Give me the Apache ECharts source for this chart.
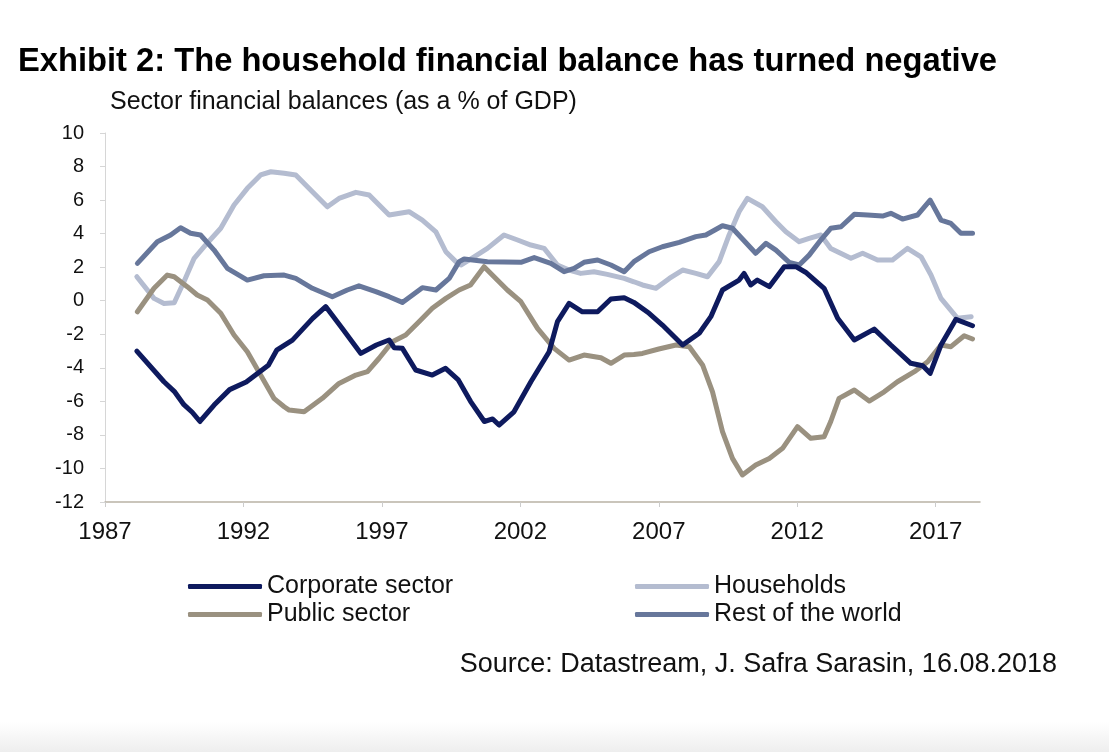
<!DOCTYPE html>
<html>
<head>
<meta charset="utf-8">
<script src="https://cdn.jsdelivr.net/npm/echarts@6/dist/echarts.min.js"></script>
<style>
html,body{margin:0;padding:0;background:#fff;}
#chart{width:1109px;height:752px;}
</style>
</head>
<body>
<div id="chart"></div>
<script>
// ---- Data ----
var xTickYears = [1987, 1992, 1997, 2002, 2007, 2012, 2017];
var yTicks = [-12, -10, -8, -6, -4, -2, 0, 2, 4, 6, 8, 10];

var corporateYears = [1988.15,1989.13,1989.5,1989.85,1990.15,1990.43,1990.94,1991.5,1992.1,1992.9,1993.2,1993.77,1994.5,1994.97,1995.57,1996.24,1996.8,1997.26,1997.44,1997.74,1998.22,1998.82,1999.3,1999.75,2000.2,2000.7,2001.0,2001.23,2001.77,2002.38,2003.04,2003.34,2003.76,2004.24,2004.79,2005.27,2005.75,2006.1,2006.65,2007.13,2007.86,2008.46,2008.88,2009.3,2009.9,2010.08,2010.32,2010.56,2010.99,2011.53,2011.95,2012.3,2012.97,2013.46,2014.06,2014.78,2015.38,2016.1,2016.53,2016.8,2017.19,2017.73,2018.33];
var corporateValues = [-3.0,-4.83,-5.4,-6.2,-6.65,-7.2,-6.22,-5.3,-4.85,-3.85,-2.95,-2.35,-1.05,-0.35,-1.65,-3.14,-2.64,-2.34,-2.8,-2.84,-4.13,-4.43,-4.03,-4.7,-6.0,-7.2,-7.05,-7.41,-6.62,-4.83,-3.04,-1.25,-0.16,-0.66,-0.66,0.1,0.18,-0.1,-0.75,-1.45,-2.64,-1.94,-0.95,0.64,1.23,1.63,0.94,1.23,0.84,2.03,2.03,1.7,0.74,-1.05,-2.34,-1.69,-2.64,-3.73,-3.88,-4.33,-2.64,-1.11,-1.49];

var householdsYears = [1988.15,1988.77,1989.13,1989.5,1989.85,1990.22,1990.58,1991.18,1991.66,1992.14,1992.62,1992.99,1993.47,1993.89,1994.49,1995.03,1995.45,1996.06,1996.54,1997.26,1997.98,1998.46,1998.95,1999.31,1999.67,1999.85,2000.33,2000.81,2001.41,2001.9,2002.38,2002.86,2003.34,2003.76,2004.18,2004.66,2005.14,2005.75,2006.1,2006.41,2006.9,2007.38,2007.86,2008.34,2008.76,2009.18,2009.54,2009.9,2010.2,2010.74,2011.23,2011.59,2012.07,2012.43,2012.85,2013.21,2013.94,2014.36,2014.9,2015.44,2015.98,2016.47,2016.83,2017.19,2017.79,2018.28];
var householdsValues = [1.43,0.14,-0.16,-0.12,1.13,2.53,3.22,4.32,5.71,6.7,7.5,7.69,7.6,7.5,6.5,5.6,6.1,6.46,6.3,5.11,5.31,4.81,4.11,2.92,2.33,2.13,2.62,3.12,3.92,3.62,3.32,3.12,2.13,1.83,1.63,1.73,1.57,1.33,1.13,0.94,0.74,1.33,1.83,1.63,1.43,2.33,3.92,5.31,6.1,5.6,4.71,4.11,3.52,3.72,3.92,3.12,2.53,2.83,2.43,2.43,3.12,2.62,1.53,0.14,-1.05,-0.95];

var publicYears = [1988.17,1988.77,1989.25,1989.5,1989.97,1990.33,1990.7,1991.18,1991.66,1992.14,1992.62,1993.1,1993.47,1993.65,1994.19,1994.85,1995.45,1996.06,1996.48,1996.9,1997.38,1997.86,1998.34,1998.82,1999.31,1999.79,2000.2,2000.69,2001.05,2001.53,2002.02,2002.62,2003.22,2003.76,2004.3,2004.91,2005.27,2005.75,2006.1,2006.41,2007.0,2007.62,2008.1,2008.58,2008.94,2009.3,2009.66,2010.02,2010.5,2010.99,2011.47,2012.01,2012.49,2012.97,2013.21,2013.51,2014.06,2014.6,2015.14,2015.62,2016.23,2016.71,2017.19,2017.55,2018.03,2018.33];
var publicValues = [-0.66,0.74,1.53,1.43,0.84,0.34,0.04,-0.75,-2.04,-3.04,-4.43,-5.82,-6.32,-6.52,-6.62,-5.82,-4.93,-4.43,-4.23,-3.43,-2.44,-2.04,-1.25,-0.45,0.14,0.64,0.94,2.03,1.43,0.64,-0.06,-1.65,-2.84,-3.54,-3.24,-3.4,-3.73,-3.24,-3.2,-3.14,-2.88,-2.64,-2.74,-3.83,-5.43,-7.81,-9.4,-10.39,-9.8,-9.4,-8.8,-7.51,-8.2,-8.11,-7.2,-5.82,-5.32,-5.98,-5.43,-4.83,-4.23,-3.64,-2.64,-2.74,-2.09,-2.28];

var rowYears = [1988.17,1988.89,1989.37,1989.73,1990.09,1990.45,1990.94,1991.42,1992.14,1992.74,1993.47,1993.89,1994.49,1995.21,1995.75,1996.17,1996.78,1997.26,1997.74,1998.46,1998.95,1999.43,1999.79,1999.97,2000.81,2002.02,2002.5,2003.1,2003.58,2003.94,2004.3,2004.79,2005.27,2005.75,2006.1,2006.65,2007.13,2007.74,2008.34,2008.7,2009.3,2009.66,2010.5,2010.87,2011.23,2011.71,2012.07,2012.43,2012.85,2013.21,2013.58,2014.06,2014.54,2015.08,2015.38,2015.8,2016.34,2016.8,2017.19,2017.55,2017.91,2018.33];
var rowValues = [2.23,3.52,3.92,4.35,4.02,3.92,3.02,1.93,1.23,1.49,1.53,1.33,0.74,0.24,0.64,0.89,0.54,0.24,-0.1,0.78,0.64,1.33,2.33,2.49,2.33,2.29,2.57,2.23,1.73,1.93,2.29,2.43,2.13,1.73,2.33,2.92,3.22,3.48,3.82,3.92,4.47,4.32,2.83,3.42,3.02,2.29,2.13,2.72,3.62,4.32,4.41,5.15,5.11,5.05,5.21,4.87,5.11,6.0,4.81,4.61,4.02,4.02];

var seriesNames = ['Corporate sector', 'Households', 'Public sector', 'Rest of the world'];
var seriesColors = ['#0e1a5e', '#b4bcd0', '#9a9180', '#67779b'];

function pairs(xs, ys) { return xs.map(function (x, i) { return [x, ys[i]]; }); }
var seriesData = [
  pairs(corporateYears, corporateValues),
  pairs(householdsYears, householdsValues),
  pairs(publicYears, publicValues),
  pairs(rowYears, rowValues)
];
// draw order: households & rest of world beneath, corporate on top
var drawOrder = [1, 3, 2, 0];

var chart = echarts.init(document.getElementById('chart'), null, {renderer: 'canvas'});
var FONT = 'Liberation Sans, Arial, sans-serif';

var legendPos = [
  {left: 188, top: 574},
  {left: 635, top: 574},
  {left: 188, top: 602},
  {left: 635, top: 602}
];

var option = {
  backgroundColor: '#ffffff',
  animation: false,
  title: {
    text: 'Exhibit 2: The household financial balance has turned negative',
    left: 18, top: 45, padding: 0,
    textStyle: {fontFamily: FONT, fontSize: 32.7, fontWeight: 'bold', color: '#000'}
  },
  grid: {left: 105, right: 129, top: 133, bottom: 250, containLabel: false},
  legend: legendPos.map(function (p, i) {
    return {
      data: [seriesNames[i]], left: p.left, top: p.top, padding: 0,
      icon: 'roundRect', itemWidth: 74, itemHeight: 5, itemGap: 0,
      selectedMode: false,
      textStyle: {fontFamily: FONT, fontSize: 25, color: '#111', padding: [0, 0, 0, 0]}
    };
  }),
  xAxis: [
    {
      type: 'value', min: 1987, max: 2018.6, position: 'bottom',
      axisLine: {show: false}, axisTick: {show: false}, splitLine: {show: false},
      axisLabel: {customValues: xTickYears, fontFamily: FONT, fontSize: 24, color: '#111', margin: 18,
        formatter: function (v) { return String(v); }}
    },
    {
      type: 'value', min: 1987, max: 2018.6, position: 'bottom',
      axisLine: {show: true, onZero: true, lineStyle: {color: '#b9b2a5', width: 1.5}},
      axisTick: {show: true, customValues: xTickYears, length: 5, lineStyle: {color: '#cccccc'}},
      axisLabel: {show: false}, splitLine: {show: false}
    }
  ],
  yAxis: {
    type: 'value', min: -12, max: 10, interval: 2,
    axisLine: {show: true, onZero: false, lineStyle: {color: '#d6d6d6', width: 1}},
    axisTick: {show: true, length: 5, lineStyle: {color: '#d6d6d6'}},
    splitLine: {show: false},
    axisLabel: {fontFamily: FONT, fontSize: 20, color: '#111', margin: 21,
      customValues: yTicks}
  },
  series: drawOrder.map(function (i) {
    return {
      name: seriesNames[i], type: 'line', xAxisIndex: 0,
      data: seriesData[i], symbol: 'none', smooth: false,
      color: seriesColors[i],
      lineStyle: {color: seriesColors[i], width: 5, cap: 'round', join: 'round'},
      itemStyle: {color: seriesColors[i]},
      z: 3
    };
  }),
  graphic: [
    {type: 'text', left: 110, top: 90,
      style: {text: 'Sector financial balances (as a % of GDP)', font: '25px ' + FONT, fill: '#111'}},
    {type: 'text', right: 52, top: 651,
      style: {text: 'Source: Datastream, J. Safra Sarasin, 16.08.2018', font: '27px ' + FONT, fill: '#111'}},
    {type: 'rect', left: 0, top: 722, z: -1,
      shape: {width: 1109, height: 30},
      style: {fill: new echarts.graphic.LinearGradient(0, 0, 0, 1, [{offset: 0, color: '#ffffff'}, {offset: 1, color: '#eeeeee'}])}}
  ]
};
chart.setOption(option);
</script>
</body>
</html>
